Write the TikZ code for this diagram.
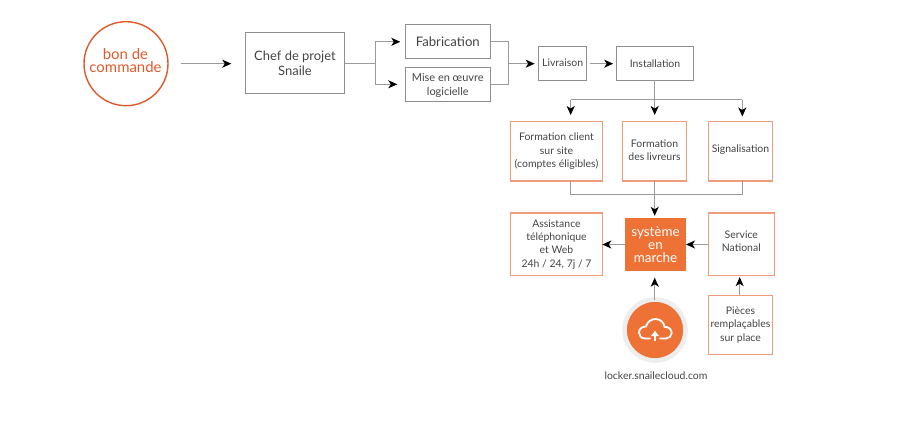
\documentclass[tikz,border=0pt]{standalone}
\usepackage{fontspec}
\setmainfont{Lato}
\usetikzlibrary{arrows.meta}
\definecolor{ink}{HTML}{444444}
\definecolor{rulegrey}{HTML}{8E8E8E}
\definecolor{connector}{HTML}{9A9A9A}
\definecolor{softorange}{HTML}{EE9C7C}
\definecolor{strongorange}{HTML}{E0592A}
\definecolor{fillorange}{HTML}{EE7135}
\definecolor{haloGrey}{HTML}{EEEEEE}
\tikzset{
  base/.style={inner sep=0pt,outer sep=0pt,align=center,text=ink,font=\fontsize{10.5}{13.35}\selectfont},
  greybox/.style={base,draw=rulegrey,line width=0.9bp},
  orangebox/.style={base,draw=softorange,line width=1.2bp},
  link/.style={draw=connector,line width=1bp},
  arrowlink/.style={link,-{Stealth[length=9bp,width=8bp,inset=2.5bp,black]}},
  iconline/.style={draw=white,line width=1.8bp,line join=round,line cap=round}
}
\begin{document}
\begin{tikzpicture}[x=1bp,y=-1bp]
\useasboundingbox (0,0) rectangle (908,442);
% nodes
\node[base,circle,draw=strongorange,line width=1.4bp,minimum size=84bp] (bon) at (126,63.7) {};
\node[base,text=strongorange,font=\fontsize{15}{13.3}\selectfont] (bonlabel) at (125.5,60.5) {bon de\\commande};
\node[greybox,minimum width=99.4bp,minimum height=60.6bp,font=\fontsize{13}{15}\selectfont] (chef) at (295,63) {Chef de projet\\Snaile};
\node[greybox,minimum width=85bp,minimum height=34bp,font=\fontsize{13.2}{15}\selectfont] (fab) at (447.8,41.8) {Fabrication};
\node[greybox,minimum width=85bp,minimum height=33.7bp] (mise) at (447.8,84.3) {};
\node[base,font=\fontsize{11}{13.5}\selectfont] (miselabel) at (447.8,85.5) {Mise en œuvre\\logicielle};
\node[greybox,minimum width=48bp,minimum height=34.3bp] (livraison) at (562.7,63.2) {Livraison};
\node[greybox,minimum width=76.6bp,minimum height=34.3bp] (install) at (655,63.2) {Installation};
\node[orangebox,minimum width=91.6bp,minimum height=59.3bp] (client) at (556.5,151.3) {Formation client\\sur site\\(comptes éligibles)};
\node[orangebox,minimum width=64.4bp,minimum height=59.3bp] (livreurs) at (654.5,151.3) {};
\node[base] (livreurslabel) at (654.5,150.3) {Formation\\des livreurs};
\node[orangebox,minimum width=64.4bp,minimum height=59.3bp] (signal) at (740.5,151.3) {};
\node[base] (signallabel) at (740.5,149.8) {Signalisation};
\node[orangebox,minimum width=91.6bp,minimum height=62.7bp] (assist) at (556.5,244.3) {Assistance\\téléphonique\\et Web\\24h / 24, 7j / 7};
\node[base,fill=fillorange,minimum width=61bp,minimum height=52.4bp,text=white,font=\fontsize{13.5}{13.3}\selectfont] (systeme) at (655.5,244.5) {système\\en\\marche};
\node[orangebox,minimum width=66.4bp,minimum height=62.7bp] (service) at (741.3,244.3) {};
\node[base] (servicelabel) at (741.3,241.5) {Service\\National};
\node[orangebox,minimum width=64.4bp,minimum height=59.4bp] (pieces) at (740.5,325) {Pièces\\remplaçables\\sur place};
\node[base,circle,fill=fillorange,draw=haloGrey,line width=4.6bp,minimum size=61bp] (cloud) at (655,330) {};
\node[base] (locker) at (656,375.5) {locker.snailecloud.com};
% junctions
\coordinate (splitA) at (375,63.7);
\coordinate (mergeA) at (508.3,63.7);
\coordinate (splitB) at (654.7,100);
\coordinate (mergeB) at (654.7,195);
\coordinate (dropL) at (570.7,115);
\coordinate (dropM) at (654.7,115);
\coordinate (dropR) at (742.3,116.5);
% connectors
\draw[arrowlink,shorten <=12.7bp,shorten >=14bp] (bon.east) -- (chef.west |- bon.east);
\draw[link] (chef.east |- splitA) -- (splitA);
\draw[arrowlink,shorten >=5bp] (splitA) |- (fab.west);
\draw[arrowlink,shorten >=8bp] (splitA) |- (mise.west);
\draw[link] (fab.east) -| (mergeA);
\draw[link] (mise.east) -| (mergeA);
\draw[arrowlink,shorten >=4bp] (mergeA) -- (livraison.west |- mergeA);
\draw[arrowlink,shorten <=3.5bp,shorten >=3.5bp] (livraison.east |- mergeA) -- (install.west |- mergeA);
\draw[arrowlink] (install.south -| dropM) -- (dropM);
\draw[link] (dropL |- splitB) -- (dropR |- splitB);
\draw[arrowlink] (dropL |- splitB) -- (dropL);
\draw[arrowlink] (dropR |- splitB) -- (dropR);
\draw[link] (client.south -| dropL) |- (mergeB);
\draw[link] (signal.south -| dropR) |- (mergeB);
\draw[arrowlink,shorten >=2.5bp] (livreurs.south -| dropM) -- (systeme.north -| dropM);
\draw[arrowlink] (systeme.west) -- (assist.east |- systeme.west);
\draw[arrowlink] (service.west |- systeme.east) -- (systeme.east);
\draw[arrowlink,shorten <=-1bp,shorten >=7bp] (cloud.north -| dropM) -- (systeme.south -| dropM);
\draw[arrowlink,shorten >=1.5bp] (pieces.north -| 739.7,0) -- (service.south -| 739.7,0);
% cloud icon
\draw[iconline] (650,338.5) -- (645,338.5) .. controls (641,338.5) and (639,335.5) .. (639,332.5) .. controls (639,329) and (642,326.5) .. (646,326.5) .. controls (647.5,321.5) and (651.5,319) .. (655.5,319) .. controls (660.5,319) and (664,322.5) .. (664.5,327) .. controls (668.5,326.5) and (671.7,329.5) .. (671.7,333) .. controls (671.7,336) and (669,338.5) .. (666,338.5) -- (660,338.5);
\draw[iconline] (655,340.5) -- (655,332);
\fill[white] (650.8,336.2) -- (655,331) -- (659.2,336.2) -- cycle;
\end{tikzpicture}
\end{document}
